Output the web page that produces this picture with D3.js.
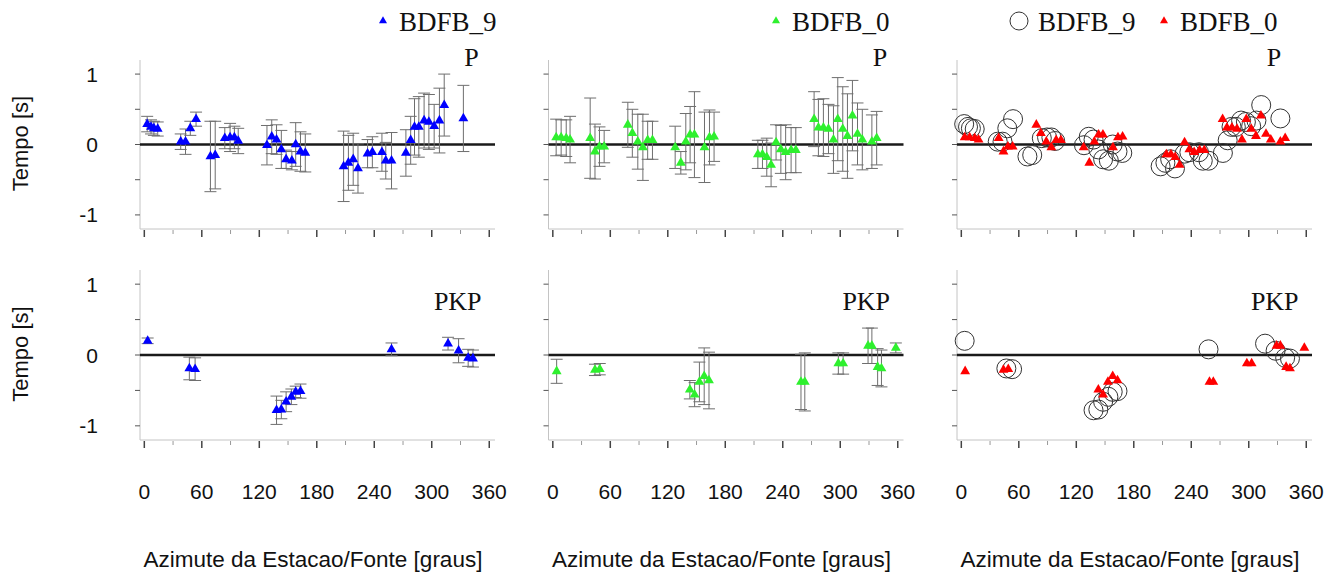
<!DOCTYPE html>
<html>
<head>
<meta charset="utf-8">
<script src="https://cdn.jsdelivr.net/npm/d3@7"></script>
<style>
  body { margin: 0; background: #fff; }
  svg { display: block; }
</style>
</head>
<body>
<div id="chart"></div>
<script>
// P phase, station BDFB_9 (azimuth, residual, error)
const pBdfb9Az = [3, 7, 10, 14, 38, 43, 48, 54, 69, 74, 84, 89.5, 94, 98, 128, 133, 138, 143, 148, 154, 158, 163, 168,
  208, 213, 218, 223, 233, 238, 248, 252, 258, 273, 278, 282, 286.5, 292, 297, 302.5, 308, 313, 333];
const pBdfb9Val = [0.29, 0.25, 0.23, 0.22, 0.04, 0.04, 0.23, 0.36, -0.17, -0.15, 0.09, 0.1, 0.1, 0.05, -0.01, 0.11, 0.07,
  -0.07, -0.21, -0.23, 0.0, -0.1, -0.12, -0.31, -0.26, -0.21, -0.34, -0.13, -0.11, -0.11, -0.23, -0.23, -0.12, 0.06,
  0.25, 0.25, 0.34, 0.32, 0.26, 0.34, 0.56, 0.37];
const pBdfb9Err = [0.11, 0.1, 0.1, 0.1, 0.11, 0.18, 0.1, 0.1, 0.5, 0.48, 0.15, 0.2, 0.16, 0.18, 0.28, 0.24, 0.21, 0.27,
  0.13, 0.13, 0.31, 0.28, 0.27, 0.5, 0.39, 0.37, 0.35, 0.2, 0.22, 0.27, 0.26, 0.4, 0.33, 0.34, 0.4, 0.43, 0.39, 0.39,
  0.31, 0.46, 0.44, 0.47];

// P phase, station BDFB_0
const pBdfb0Az = [3.5, 8.7, 14, 18, 39, 44, 48.7, 53.6, 78.3, 83, 88.7, 94, 99, 104, 127.7, 133.6, 138.8, 143.3, 147.8,
  158.3, 163.5, 168.3, 214, 218.8, 223.3, 227.8, 233, 238, 243, 248.7, 253.6, 272.7, 277.2, 282.4, 287.7, 292.9, 297.4,
  302.6, 307.5, 312.7, 318, 323, 333, 338];
const pBdfb0Val = [0.1, 0.1, 0.09, 0.07, 0.09, -0.1, -0.03, -0.03, 0.28, 0.16, 0.04, -0.04, 0.06, 0.06, -0.04, -0.26,
  0.04, 0.14, 0.14, -0.04, 0.1, 0.11, -0.14, -0.14, -0.18, -0.29, 0.03, -0.07, -0.11, -0.08, -0.08, 0.36, 0.24, 0.24,
  0.22, 0.07, 0.36, 0.22, 0.12, 0.41, 0.15, 0.07, 0.04, 0.09];
const pBdfb0Err = [0.26, 0.25, 0.26, 0.33, 0.57, 0.39, 0.28, 0.23, 0.32, 0.34, 0.39, 0.47, 0.27, 0.27, 0.3, 0.16, 0.4,
  0.4, 0.61, 0.5, 0.39, 0.35, 0.2, 0.2, 0.27, 0.31, 0.25, 0.34, 0.39, 0.32, 0.32, 0.39, 0.4, 0.41, 0.35, 0.48, 0.59,
  0.6, 0.6, 0.5, 0.44, 0.43, 0.38, 0.38];

// PKP phase, station BDFB_9
const pkpBdfb9Az = [3.5, 47, 53, 138, 143, 148, 153.5, 158, 163, 258, 317, 328, 338, 343];
const pkpBdfb9Val = [0.2, -0.19, -0.2, -0.78, -0.77, -0.66, -0.59, -0.52, -0.51, 0.08, 0.16, 0.06, -0.04, -0.05];
const pkpBdfb9Err = [0.04, 0.16, 0.16, 0.2, 0.13, 0.14, 0.11, 0.08, 0.1, 0.09, 0.09, 0.17, 0.12, 0.12];

// PKP phase, station BDFB_0
const pkpBdfb0Az = [4, 44, 49, 143, 148, 153, 158, 163, 259, 263, 298, 303, 329, 333, 339, 343, 358];
const pkpBdfb0Val = [-0.23, -0.21, -0.2, -0.49, -0.56, -0.38, -0.3, -0.36, -0.38, -0.38, -0.12, -0.12, 0.13, 0.13,
  -0.17, -0.19, 0.1];
const pkpBdfb0Err = [0.17, 0.08, 0.08, 0.13, 0.17, 0.28, 0.4, 0.4, 0.39, 0.41, 0.15, 0.15, 0.25, 0.25, 0.26, 0.26, 0.07];

const xTickLabels = [0, 60, 120, 180, 240, 300, 360];
const yTickLabels = [-1, 0, 1];
const xTitle = "Azimute da Estacao/Fonte [graus]";
const yTitle = "Tempo [s]";

const blue = "#0000ff";
const green = "#2ef02e";
const red = "#ff0000";

const width = 1342;
const height = 575;
const panelLeft = [140, 548.5, 957];
const panelW = 355;
const sans = "'Liberation Sans', Arial, Helvetica, sans-serif";
const serif = "'Liberation Serif', 'Times New Roman', serif";

const svg = d3.select("#chart").append("svg")
  .attr("width", width)
  .attr("height", height);

function pack(az, val, err) {
  return az.map((a, i) => ({ az: a, val: val[i], err: err[i] }));
}

const pB9 = pack(pBdfb9Az, pBdfb9Val, pBdfb9Err);
const pB0 = pack(pBdfb0Az, pBdfb0Val, pBdfb0Err);
const kB9 = pack(pkpBdfb9Az, pkpBdfb9Val, pkpBdfb9Err);
const kB0 = pack(pkpBdfb0Az, pkpBdfb0Val, pkpBdfb0Err);

const rows = [
  { yRange: [229, 60], phase: "P", phaseY: 66, series: [pB9, pB0] },
  { yRange: [440, 270], phase: "PKP", phaseY: 310, series: [kB9, kB0] }
];

const tri = d3.symbol().type(d3.symbolTriangle).size(42);
const triSmall = d3.symbol().type(d3.symbolTriangle).size(28);

rows.forEach((row, ri) => {
  const y = d3.scaleLinear().domain([-1.2, 1.2]).range(row.yRange);

  panelLeft.forEach((left, pi) => {
    const x = d3.scaleLinear().domain([-4.5, 366]).range([left, left + panelW]);
    const g = svg.append("g");

    // axis lines (light grey)
    g.append("line")
      .attr("x1", left).attr("x2", left)
      .attr("y1", y(1.2)).attr("y2", y(-1.2))
      .attr("stroke", "#c4c4c4");
    g.append("line")
      .attr("x1", left).attr("x2", left + panelW)
      .attr("y1", y(-1.2)).attr("y2", y(-1.2))
      .attr("stroke", "#c4c4c4");

    // y ticks
    g.selectAll(".ytick")
      .data([-1, -0.5, 0, 0.5, 1])
      .enter().append("line")
      .attr("x1", left - 5).attr("x2", left)
      .attr("y1", (d) => y(d)).attr("y2", (d) => y(d))
      .attr("stroke", "#555");

    // x ticks
    g.selectAll(".xtick")
      .data(d3.range(0, 361, 30))
      .enter().append("line")
      .attr("x1", (d) => x(d)).attr("x2", (d) => x(d))
      .attr("y1", y(-1.2) + 1)
      .attr("y2", (d) => y(-1.2) + (d % 60 === 0 ? 8 : 5))
      .attr("stroke", (d) => (d % 60 === 0 ? "#444" : "#999"))
      .attr("stroke-width", (d) => (d % 60 === 0 ? 1.5 : 1));

    // zero line
    g.append("line")
      .attr("x1", left).attr("x2", left + panelW)
      .attr("y1", y(0)).attr("y2", y(0))
      .attr("stroke", "#1a1a1a")
      .attr("stroke-width", 2.5);

    if (pi < 2) {
      const data = row.series[pi];
      const color = pi === 0 ? blue : green;
      const eb = g.selectAll(".eb").data(data).enter().append("g")
        .attr("stroke", "#6e6e6e").attr("stroke-width", 1);
      eb.append("line")
        .attr("x1", (d) => x(d.az)).attr("x2", (d) => x(d.az))
        .attr("y1", (d) => y(d.val + d.err)).attr("y2", (d) => y(d.val - d.err));
      eb.append("line")
        .attr("x1", (d) => x(d.az) - 6).attr("x2", (d) => x(d.az) + 6)
        .attr("y1", (d) => y(d.val + d.err)).attr("y2", (d) => y(d.val + d.err));
      eb.append("line")
        .attr("x1", (d) => x(d.az) - 6).attr("x2", (d) => x(d.az) + 6)
        .attr("y1", (d) => y(d.val - d.err)).attr("y2", (d) => y(d.val - d.err));

      g.selectAll(".pt").data(data).enter().append("path")
        .attr("d", tri)
        .attr("transform", (d) => `translate(${x(d.az)},${y(d.val)})`)
        .attr("fill", color);
    } else {
      g.selectAll(".circ").data(row.series[0]).enter().append("circle")
        .attr("cx", (d) => x(d.az)).attr("cy", (d) => y(d.val))
        .attr("r", 9.5)
        .attr("fill", "none")
        .attr("stroke", "#333")
        .attr("stroke-width", 1);
      g.selectAll(".pt").data(row.series[1]).enter().append("path")
        .attr("d", tri)
        .attr("transform", (d) => `translate(${x(d.az)},${y(d.val)})`)
        .attr("fill", red);
    }

    // phase label
    const labelAz = row.phase === "P" && pi === 2 ? 334 : row.phase === "P" ? 349 : 352;
    g.append("text")
      .attr("x", x(labelAz)).attr("y", row.phaseY)
      .attr("text-anchor", "end")
      .style("font-family", serif)
      .style("font-size", "26px")
      .style("fill", "#111")
      .text(row.phase);

    // y labels on first column
    if (pi === 0) {
      g.selectAll(".ylab").data(yTickLabels).enter().append("text")
        .attr("x", 98).attr("y", (d) => y(d))
        .attr("dy", "0.36em")
        .attr("text-anchor", "end")
        .style("font-family", sans)
        .style("font-size", "21px")
        .style("fill", "#111")
        .text((d) => d);
      g.append("text")
        .attr("transform", `translate(28,${y(0) - 1}) rotate(-90)`)
        .attr("text-anchor", "middle")
        .style("font-family", sans)
        .style("font-size", "22px")
        .style("fill", "#111")
        .text(yTitle);
    }

    // x labels and title under the bottom row
    if (ri === 1) {
      g.selectAll(".xlab").data(xTickLabels).enter().append("text")
        .attr("x", (d) => x(d)).attr("y", 499)
        .attr("text-anchor", "middle")
        .style("font-family", sans)
        .style("font-size", "21px")
        .style("fill", "#111")
        .text((d) => d);
      g.append("text")
        .attr("x", x(176)).attr("y", 567)
        .attr("text-anchor", "middle")
        .style("font-family", sans)
        .style("font-size", "22.5px")
        .style("fill", "#111")
        .text(xTitle);
    }
  });
});

// legends
const legend = svg.append("g")
  .style("font-family", serif)
  .style("font-size", "27px")
  .style("fill", "#111");

function legendTri(cx, color) {
  legend.append("path").attr("d", triSmall)
    .attr("transform", `translate(${cx},21)`).attr("fill", color);
}
function legendText(tx, label) {
  legend.append("text").attr("x", tx).attr("y", 31).text(label);
}

legendTri(383, blue);
legendText(399, "BDFB_9");
legendTri(776, green);
legendText(792, "BDFB_0");
legend.append("circle").attr("cx", 1019).attr("cy", 21).attr("r", 9)
  .attr("fill", "none").attr("stroke", "#333").attr("stroke-width", 1);
legendText(1038, "BDFB_9");
legendTri(1164, red);
legendText(1180, "BDFB_0");
</script>
</body>
</html>
